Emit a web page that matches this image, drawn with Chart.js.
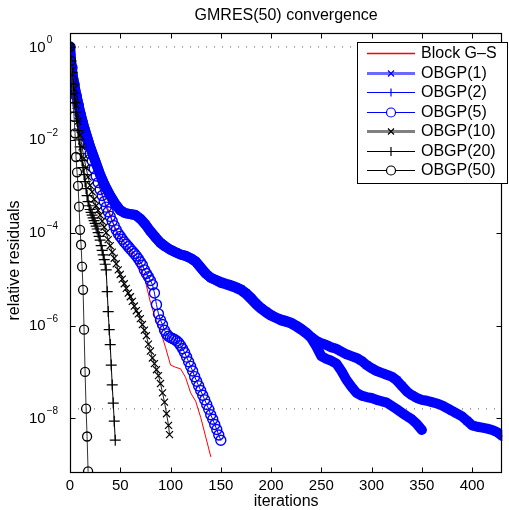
<!DOCTYPE html>
<html>
<head>
<meta charset="utf-8">
<script src="https://cdn.jsdelivr.net/npm/chart.js@4.4.1/dist/chart.umd.min.js"></script>
<style>
  body { margin: 0; background: #fff; }
  canvas { display: block; }
</style>
</head>
<body>
<canvas id="chart" width="509" height="510"></canvas>
<script>
// Iterations and relative residuals
const gsIter = [0,5,10,15,20,25,30,35,40,45,50,55,60,65,70,75,80,85,90,95,100,105,110,115,120,125,130,135,140];
const gsRes = [1,0.112,3.16e-2,1.12e-2,4.47e-3,2.0e-3,8.91e-4,4.47e-4,2.51e-4,1.12e-4,
  7.94e-5,5.62e-5,3.98e-5,2.82e-5,1.91e-5,8.91e-6,3.16e-6,1.41e-6,7.59e-7,3.39e-7,
  1.41e-7,1.26e-7,1.17e-7,7.59e-8,3.55e-8,2.34e-8,1.05e-8,3.98e-9,1.51e-9];

const obgp1Iter = [0,1,2,3,5,8,10,13,15,20,25,30,35,40,45,50,55,60,65,70,75,80,85,90,95,100,
  105,110,115,120,125,130,135,140,145,150,155,160,165,170,175,180,185,190,195,200,205,210,215,
  220,225,230,235,240,245,250,255,260,265,270,275,280,285,290,295,300,305,310,315,320,325,330,
  335,340,345,350,355,360,365,370,375,380,385,390,395,400,405,410,415,420,425,430];
const obgp1Res = [1,0.501,0.316,0.224,0.126,6.31e-2,3.98e-2,2.24e-2,1.58e-2,
  7.08e-3,3.55e-3,1.78e-3,1e-3,6.31e-4,4.17e-4,3.02e-4,2.63e-4,2.51e-4,2.40e-4,
  2.0e-4,1.51e-4,1.07e-4,7.94e-5,6.03e-5,5.01e-5,4.27e-5,3.80e-5,3.39e-5,3.16e-5,
  2.82e-5,2.40e-5,1.78e-5,1.32e-5,1.07e-5,9.55e-6,8.71e-6,7.94e-6,7.41e-6,6.76e-6,
  6.03e-6,5.01e-6,3.98e-6,3.02e-6,2.40e-6,2.0e-6,1.70e-6,1.48e-6,1.35e-6,1.26e-6,
  1.15e-6,1e-6,8.51e-7,7.08e-7,5.62e-7,4.68e-7,4.17e-7,3.80e-7,3.39e-7,3.16e-7,
  2.75e-7,2.40e-7,2.19e-7,2.0e-7,1.74e-7,1.41e-7,1.20e-7,1.05e-7,9.55e-8,8.71e-8,
  7.94e-8,6.61e-8,5.01e-8,3.80e-8,3.16e-8,2.75e-8,2.51e-8,2.40e-8,2.24e-8,2.09e-8,
  1.91e-8,1.66e-8,1.45e-8,1.26e-8,1.10e-8,8.91e-9,7.08e-9,6.61e-9,6.31e-9,6.03e-9,
  5.62e-9,5.01e-9,4.17e-9];

const obgp2Iter = [0,1,2,3,5,8,10,13,15,20,25,30,35,40,45,50,55,60,65,70,75,80,85,90,95,100,
  105,110,115,120,125,130,135,140,145,150,155,160,165,170,175,180,185,190,195,200,205,210,215,
  220,225,230,235,240,245,250,255,260,265,270,275,280,285,290,295,300,305,310,315,320,325,330,
  335,340,345,350];
const obgp2Res = [1,0.501,0.316,0.224,0.126,6.31e-2,3.98e-2,2.24e-2,1.58e-2,
  7.08e-3,3.55e-3,1.78e-3,1e-3,6.31e-4,4.17e-4,3.02e-4,2.63e-4,2.51e-4,2.40e-4,
  2.0e-4,1.51e-4,1.07e-4,7.94e-5,6.03e-5,5.01e-5,4.27e-5,3.80e-5,3.39e-5,3.16e-5,
  2.82e-5,2.40e-5,1.78e-5,1.32e-5,1.07e-5,9.55e-6,
  8.32e-6,7.76e-6,7.08e-6,6.46e-6,5.75e-6,4.79e-6,3.72e-6,2.88e-6,2.29e-6,1.91e-6,
  1.62e-6,1.45e-6,1.29e-6,1.20e-6,1.10e-6,9.55e-7,8.13e-7,6.76e-7,5.37e-7,3.55e-7,
  2.19e-7,1.91e-7,1.74e-7,1.51e-7,1.05e-7,6.76e-8,4.79e-8,3.55e-8,3.09e-8,2.88e-8,
  2.75e-8,2.51e-8,2.34e-8,2.19e-8,1.86e-8,1.58e-8,1.32e-8,1.12e-8,9.55e-9,7.59e-9,5.62e-9];

const obgp5Iter = [0,2,4,6,8,10,12,14,16,18,20,22,24,26,28,30,32,34,36,38,40,42,44,46,48,50,
  52,54,56,58,60,62,64,66,68,70,72,74,76,78,80,82,84,86,88,90,92,94,96,98,100,102,104,106,108,
  110,112,114,116,118,120,122,124,126,128,130,132,134,136,138,140,142,144,146,148,150];
const obgp5Res = [1,0.355,0.158,8.91e-2,5.62e-2,3.55e-2,2.40e-2,1.66e-2,1.12e-2,7.94e-3,
  5.01e-3,3.55e-3,2.40e-3,1.66e-3,1.20e-3,8.51e-4,6.31e-4,4.68e-4,3.55e-4,2.82e-4,
  2.24e-4,1.78e-4,1.41e-4,1.15e-4,9.55e-5,8.32e-5,7.24e-5,6.31e-5,5.62e-5,5.01e-5,
  4.47e-5,3.98e-5,3.55e-5,3.16e-5,2.75e-5,2.34e-5,2.0e-5,1.58e-5,1.32e-5,1.12e-5,
  9.33e-6,7.59e-6,5.01e-6,2.82e-6,1.78e-6,1.32e-6,1.05e-6,7.94e-7,6.61e-7,5.89e-7,
  5.50e-7,5.25e-7,5.01e-7,4.68e-7,4.27e-7,3.72e-7,3.16e-7,2.63e-7,2.09e-7,1.66e-7,
  1.32e-7,1.05e-7,7.94e-8,6.31e-8,5.01e-8,3.98e-8,3.16e-8,2.51e-8,2.0e-8,1.58e-8,
  1.20e-8,9.55e-9,7.41e-9,5.75e-9,4.37e-9,3.39e-9];

const obgp10Iter = [0,2,4,6,8,10,12,14,16,18,20,22,24,26,28,30,32,34,36,38,40,42,44,46,48,50,
  52,54,56,58,60,62,64,66,68,70,72,74,76,78,80,82,84,86,88,90,92,94,96,98,99];
const obgp10Res = [1,0.316,0.126,5.62e-2,2.51e-2,1.26e-2,7.08e-3,3.98e-3,2.51e-3,1.58e-3,
  1.05e-3,7.59e-4,5.25e-4,3.80e-4,3.02e-4,2.40e-4,1.78e-4,1.32e-4,1e-4,7.08e-5,
  5.25e-5,3.80e-5,2.82e-5,2.14e-5,1.58e-5,1.26e-5,1e-5,7.94e-6,6.31e-6,5.01e-6,
  4.17e-6,3.31e-6,2.63e-6,2.09e-6,1.78e-6,1.41e-6,1.05e-6,7.94e-7,6.03e-7,3.98e-7,
  2.82e-7,2.0e-7,1.51e-7,1.12e-7,8.32e-8,5.62e-8,3.55e-8,2.24e-8,1.26e-8,7.08e-9,4.47e-9];

const obgp20Iter = [0,1,2,3,4,5,6,7,8,9,10,11,12,13,14,15,16,17,18,19,20,21,22,23,24,25,26,27,
  28,29,30,31,32,33,34,35,36,37,38,39,40,41,42,43,44,45];
const obgp20Res = [1,0.501,0.282,0.158,0.1,6.31e-2,3.98e-2,2.51e-2,1.58e-2,1e-2,
  7.08e-3,5.01e-3,3.55e-3,2.51e-3,1.78e-3,1.26e-3,8.91e-4,6.31e-4,4.68e-4,3.80e-4,
  3.16e-4,2.75e-4,2.40e-4,2.09e-4,1.82e-4,1.58e-4,1.38e-4,1.20e-4,1e-4,8.32e-5,
  6.92e-5,5.25e-5,4.17e-5,3.31e-5,2.63e-5,2.09e-5,1.58e-5,5.37e-6,2.0e-6,8.13e-7,
  3.89e-7,1.41e-7,5.25e-8,2.14e-8,8.71e-9,3.39e-9];

const obgp50Iter = [0,1,2,3,4,5,6,7,8,9,10,11,12,13,14,15,16,17,18];
const obgp50Res = [1,0.501,0.2,7.76e-2,3.16e-2,1.38e-2,4.27e-3,2.0e-3,1.02e-3,3.63e-4,
  1.15e-4,5.50e-5,1.86e-5,5.89e-6,8.13e-7,1e-7,1.62e-8,4.07e-9,7.24e-10];

// dotted reference levels and axes
const refLevels = [1, 1.6e-8];
const xRange = [0, 430];
const yRange = [7.1e-10, 2];
const xTicks = [0, 50, 100, 150, 200, 250, 300, 350, 400];
const yTicks = [1, 1e-2, 1e-4, 1e-6, 1e-8];
const yTickExp = ['0', '\u22122', '\u22124', '\u22126', '\u22128'];

const FONT = '"Liberation Sans", Arial, Helvetica, sans-serif';
const BLUE = '#0000ff';

function toPoints(iters, res) {
  return iters.map((x, i) => ({ x: x, y: res[i] }));
}

function series(label, iters, res, opts) {
  return Object.assign({
    label: label,
    data: toPoints(iters, res),
    showLine: true,
    fill: false,
    borderWidth: 1,
    pointRadius: 4,
    pointBorderWidth: 1,
    pointBackgroundColor: 'rgba(0,0,0,0)',
    borderJoinStyle: 'round',
    borderCapStyle: 'round'
  }, opts);
}

const refSets = refLevels.map(v => ({
  label: '',
  isRef: true,
  data: [{ x: xRange[0], y: v }, { x: xRange[1], y: v }],
  showLine: true,
  borderColor: '#555',
  borderWidth: 1,
  borderDash: [1, 7],
  pointRadius: 0,
  order: 10
}));

const datasets = [
  series('Block G\u2013S', gsIter, gsRes, {
    borderColor: '#ff0000', pointRadius: 0, order: 7,
    key: { color: '#ff0000', width: 1.5, marker: null }
  }),
  series('OBGP(1)', obgp1Iter, obgp1Res, {
    borderColor: BLUE, borderWidth: 10, pointStyle: 'crossRot', pointRadius: 5,
    pointBorderColor: BLUE, order: 6,
    key: { color: '#6a6aff', width: 3, marker: 'crossRot', r: 4 }
  }),
  series('OBGP(2)', obgp2Iter, obgp2Res, {
    borderColor: BLUE, borderWidth: 10, pointStyle: 'cross', pointRadius: 5,
    pointBorderColor: BLUE, order: 5,
    key: { color: BLUE, width: 1, marker: 'cross', r: 4 }
  }),
  series('OBGP(5)', obgp5Iter, obgp5Res, {
    borderColor: BLUE, pointStyle: 'circle', pointRadius: 5, pointBorderWidth: 1.4,
    pointBorderColor: BLUE, order: 4,
    key: { color: BLUE, width: 1, marker: 'circle', r: 4.5 }
  }),
  series('OBGP(10)', obgp10Iter, obgp10Res, {
    borderColor: '#222', pointStyle: 'crossRot', pointRadius: 5, pointBorderWidth: 1.2,
    pointBorderColor: '#000', order: 3,
    key: { color: '#808080', width: 3, marker: 'crossRot', r: 4 }
  }),
  series('OBGP(20)', obgp20Iter, obgp20Res, {
    borderColor: '#000', pointStyle: 'cross', pointRadius: 5.5, pointBorderWidth: 1.2,
    pointBorderColor: '#000', order: 2,
    key: { color: '#000', width: 1, marker: 'cross', r: 4.5 }
  }),
  series('OBGP(50)', obgp50Iter, obgp50Res, {
    borderColor: '#333', pointStyle: 'circle', pointRadius: 4.5, pointBorderWidth: 1.3,
    pointBorderColor: '#000', order: 1,
    key: { color: '#000', width: 1, marker: 'circle', r: 4.5 }
  })
];

function drawMarker(ctx, style, x, y, r) {
  ctx.beginPath();
  if (style === 'circle') {
    ctx.arc(x, y, r, 0, Math.PI * 2);
    ctx.fillStyle = '#fff';
    ctx.fill();
  } else if (style === 'cross') {
    ctx.moveTo(x - r, y); ctx.lineTo(x + r, y);
    ctx.moveTo(x, y - r); ctx.lineTo(x, y + r);
  } else if (style === 'crossRot') {
    const d = r * 0.75;
    ctx.moveTo(x - d, y - d); ctx.lineTo(x + d, y + d);
    ctx.moveTo(x - d, y + d); ctx.lineTo(x + d, y - d);
  }
  ctx.stroke();
}

// MATLAB style frame, inward ticks, labels and a boxed legend
const matlabFrame = {
  id: 'matlabFrame',
  beforeDraw(chart) {
    const ctx = chart.ctx;
    ctx.save();
    ctx.fillStyle = '#fff';
    ctx.fillRect(0, 0, chart.width, chart.height);
    ctx.restore();
  },
  afterDatasetsDraw(chart) {
    const ctx = chart.ctx;
    const a = chart.chartArea;
    const xs = chart.scales.x, ys = chart.scales.y;
    const L = Math.floor(a.left) + 0.5, R = Math.floor(a.right) - 0.5;
    const T = Math.floor(a.top) + 0.5, B = Math.floor(a.bottom) + 0.5;
    ctx.save();
    ctx.strokeStyle = '#000';
    ctx.lineWidth = 1.2;
    ctx.strokeRect(L, T, R - L, B - T);

    // ticks
    ctx.lineWidth = 1;
    ctx.beginPath();
    xTicks.forEach(v => {
      const px = Math.round(xs.getPixelForValue(v)) + 0.5;
      ctx.moveTo(px, B); ctx.lineTo(px, B - 5);
      ctx.moveTo(px, T); ctx.lineTo(px, T + 5);
    });
    yTicks.forEach(v => {
      const py = Math.round(ys.getPixelForValue(v)) + 0.5;
      ctx.moveTo(L, py); ctx.lineTo(L + 5, py);
      ctx.moveTo(R, py); ctx.lineTo(R - 5, py);
    });
    ctx.stroke();

    // tick labels
    ctx.fillStyle = '#000';
    ctx.font = '15px ' + FONT;
    ctx.textAlign = 'center';
    ctx.textBaseline = 'middle';
    xTicks.forEach(v => {
      ctx.fillText(String(v), xs.getPixelForValue(v), 486);
    });
    yTicks.forEach((v, i) => {
      const py = ys.getPixelForValue(v);
      ctx.font = '15px ' + FONT;
      ctx.textAlign = 'left';
      ctx.textBaseline = 'middle';
      ctx.fillText('10', 29, py + 0.5);
      const w = ctx.measureText('10').width;
      ctx.font = '10px ' + FONT;
      ctx.textBaseline = 'alphabetic';
      ctx.fillText(yTickExp[i], 29 + w + 1, py - 4);
    });

    // title and axis labels
    const cx = (a.left + a.right) / 2;
    ctx.font = '16px ' + FONT;
    ctx.textAlign = 'center';
    ctx.textBaseline = 'middle';
    ctx.fillText('GMRES(50) convergence', cx, 16);
    ctx.fillText('iterations', cx, 502);
    ctx.save();
    ctx.translate(15, (a.top + a.bottom) / 2 + 8);
    ctx.rotate(-Math.PI / 2);
    ctx.fillText('relative residuals', 0, 0);
    ctx.restore();

    // legend
    const lx = 357.5, ly = 42.5, lw = 150, lh = 141;
    ctx.fillStyle = '#fff';
    ctx.fillRect(lx, ly, lw, lh);
    ctx.strokeStyle = '#000';
    ctx.lineWidth = 1;
    ctx.strokeRect(lx, ly, lw, lh);
    const items = chart.data.datasets.filter(d => !d.isRef);
    items.forEach((d, i) => {
      const y = Math.round(53 + i * 19.5) + 0.5;
      const st = d.key;
      ctx.strokeStyle = st.color;
      ctx.lineWidth = st.width;
      ctx.beginPath();
      ctx.moveTo(367, y); ctx.lineTo(415, y);
      ctx.stroke();
      if (st.marker) {
        ctx.strokeStyle = d.pointBorderColor || st.color;
        ctx.lineWidth = 1.2;
        drawMarker(ctx, st.marker, 391, y, st.r);
      }
      ctx.fillStyle = '#000';
      ctx.font = '16px ' + FONT;
      ctx.textAlign = 'left';
      ctx.textBaseline = 'middle';
      ctx.fillText(d.label, 421, y);
    });
    ctx.restore();
  }
};

new Chart(document.getElementById('chart'), {
  type: 'scatter',
  data: { datasets: refSets.concat(datasets) },
  options: {
    responsive: false,
    animation: false,
    devicePixelRatio: 1,
    events: [],
    layout: { padding: { left: 70, right: 0.5, top: 33, bottom: 38 } },
    plugins: {
      legend: { display: false },
      title: { display: false },
      tooltip: { enabled: false }
    },
    elements: { line: { tension: 0 } },
    scales: {
      x: { type: 'linear', min: xRange[0], max: xRange[1], display: false },
      y: { type: 'logarithmic', min: yRange[0], max: yRange[1], display: false }
    }
  },
  plugins: [matlabFrame]
});
</script>
</body>
</html>
